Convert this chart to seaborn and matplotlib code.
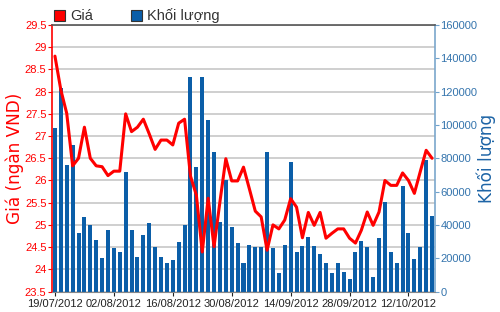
import matplotlib
matplotlib.use("Agg")
import matplotlib.pyplot as plt
import seaborn as sns
import pandas as pd
from matplotlib.patches import Patch
from matplotlib.ticker import MultipleLocator, FixedLocator

# ---- data ----
price = [28.80, 28.04, 27.51, 26.33, 26.50, 27.20, 26.50, 26.33, 26.31, 26.11,
         26.21, 26.21, 27.50, 27.10, 27.20, 27.38, 27.05, 26.70, 26.91, 26.91,
         26.80, 27.29, 27.38, 26.10, 25.67, 24.39, 25.60, 24.51, 25.52, 26.49,
         25.99, 25.99, 26.30, 25.81, 25.31, 25.18, 24.43, 25.00, 24.91, 25.11,
         25.59, 25.40, 24.71, 25.28, 24.99, 25.28, 24.70, 24.81, 24.91, 24.91,
         24.70, 24.59, 24.88, 25.29, 24.99, 25.29, 26.00, 25.89, 25.89, 26.17,
         26.00, 25.71, 26.20, 26.68, 26.50]
volume = [98000, 122000, 76000, 88000, 35000, 45000, 40000, 31000, 20000, 37000,
          26000, 24000, 72000, 37000, 21000, 34000, 41000, 27000, 21000, 17000,
          19000, 30000, 40000, 129000, 75000, 129000, 103000, 84000, 42000, 67000,
          39000, 29000, 17000, 28000, 27000, 27000, 84000, 26000, 11000, 28000,
          78000, 24000, 27500, 32700, 27500, 22300, 16900, 10900, 17300, 11700,
          7300, 23700, 30300, 26500, 8500, 32100, 53900, 23700, 16900, 63500,
          35400, 19300, 26900, 78800, 45500]
day_index = list(range(len(price)))
tick_positions = [0, 10, 20, 30, 40, 50, 60]
tick_labels = ["19/07/2012", "02/08/2012", "16/08/2012", "30/08/2012",
               "14/09/2012", "28/09/2012", "12/10/2012"]
price_ticks = [23.5, 24, 24.5, 25, 25.5, 26, 26.5, 27, 27.5, 28, 28.5, 29, 29.5]
volume_ticks = [0, 20000, 40000, 60000, 80000, 100000, 120000, 140000, 160000]

df = pd.DataFrame({"day": day_index, "price": price, "volume": volume})

sns.set_theme(style="white")
plt.rcParams["font.family"] = ["DejaVu Sans"]

RED = "#ff0000"
BAR = "#0b5ea8"
RTICK = "#3474ad"
TICKFONT = {"family": ["Liberation Sans Narrow", "Liberation Sans", "DejaVu Sans"], "size": 8.0}

fig = plt.figure(figsize=(5, 3.12), dpi=100)
ax1 = fig.add_axes([0.104, 0.0657, 0.766, 0.854])
ax2 = ax1.twinx()

# bars on right axis
sns.barplot(data=df, x="day", y="volume", ax=ax2, color=BAR, saturation=1,
            width=0.68, linewidth=0)
# line on left axis
sns.lineplot(data=df, x="day", y="price", ax=ax1, color=RED, linewidth=2.2)

ax1.set_zorder(2)
ax2.set_zorder(1)
ax1.patch.set_visible(False)

ax1.set_xlim(-0.5, len(price) - 0.5)
ax1.set_ylim(23.5, 29.5)
ax2.set_ylim(0, 160000)

# grid aligned to price ticks, drawn behind bars
ax2.yaxis.remove_overlapping_locs = False
ax2.yaxis.set_minor_locator(MultipleLocator(160000 / 12))
ax2.set_axisbelow(True)
ax2.grid(which="minor", axis="y", color="#cfcfcf", linewidth=1.4)
ax2.grid(which="major", visible=False)
ax2.tick_params(which="minor", length=0)

# x axis
ax1.set_xticks(tick_positions)
ax1.set_xticklabels(tick_labels, fontdict=TICKFONT, color="#222222")
ax1.tick_params(axis="x", length=3, width=0.8, color="#222222", direction="out",
                pad=2.5, bottom=True)
ax1.set_xlabel("")

# left axis
ax1.yaxis.set_major_locator(FixedLocator(price_ticks))
ax1.set_yticklabels([f"{v:g}" for v in price_ticks], fontdict=TICKFONT, color=RED)
ax1.tick_params(axis="y", length=3, width=0.8, color=RED, direction="out", pad=1, left=True)
ax1.set_ylabel("Giá (ngàn VND)", color=RED, fontsize=12.2)
ax1.yaxis.set_label_coords(-0.073, 0.5)

# right axis
ax2.yaxis.set_major_locator(FixedLocator(volume_ticks))
ax2.set_yticklabels([str(v) for v in volume_ticks], fontdict=TICKFONT, color=RTICK)
ax2.tick_params(axis="y", which="major", length=3, width=0.8, color="#6fa2cc",
                direction="out", pad=1, right=True)
ax2.set_ylabel("Khối lượng", color="#1d64a6", fontsize=12.2)
ax2.yaxis.set_label_coords(1.109, 0.5)

# spines
for s in ax2.spines.values():
    s.set_visible(False)
ax2.spines["right"].set_visible(True)
ax2.spines["right"].set_color("#7aa7cc")
ax2.spines["right"].set_linewidth(1.2)
ax1.spines["right"].set_visible(False)
ax1.spines["left"].set_color(RED)
ax1.spines["left"].set_linewidth(1.2)
ax1.spines["top"].set_color("#555555")
ax1.spines["top"].set_linewidth(1.2)
ax1.spines["bottom"].set_color("#888888")
ax1.spines["bottom"].set_linewidth(0.8)

# legend
handles = [Patch(facecolor=RED, edgecolor="#333333", linewidth=0.8),
           Patch(facecolor=BAR, edgecolor="#333333", linewidth=0.8)]
fig.legend(handles, ["Giá", "Khối lượng"], loc="lower left",
           bbox_to_anchor=(0.108, 0.925), ncol=2, frameon=False,
           handlelength=0.75, handleheight=0.75, handletextpad=0.35,
           columnspacing=2.6, borderpad=0, borderaxespad=0,
           prop={"family": ["Liberation Sans", "DejaVu Sans"], "size": 10.5},
           labelcolor="#333333")

fig.savefig("out.png", dpi=100)
